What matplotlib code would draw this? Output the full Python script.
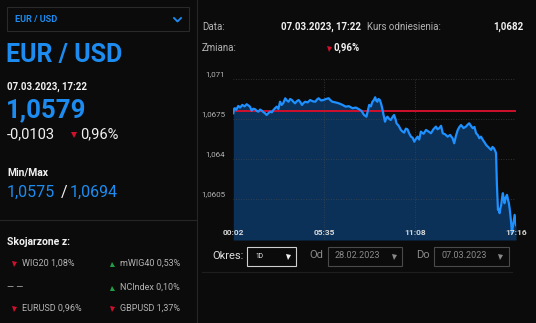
import matplotlib
matplotlib.use("Agg")
import matplotlib.pyplot as plt
from matplotlib.lines import Line2D
from matplotlib.patches import Rectangle

plt.rcParams['font.family'] = ['Roboto', 'DejaVu Sans']

# intraday EUR/USD quotes, 07.03.2023
times = ["00:02", "00:05", "00:08", "00:13", "00:20", "00:27", "00:35", "00:43", "00:51",
         "00:57", "01:03", "01:09", "01:15", "01:22", "01:28", "01:34", "01:40", "01:46",
         "01:52", "01:58", "02:04", "02:10", "02:17", "02:23", "02:29", "02:35", "02:41",
         "02:47", "02:53", "02:59", "03:05", "03:12", "03:18", "03:24", "03:30", "03:36",
         "03:42", "03:48", "03:54", "04:01", "04:07", "04:13", "04:19", "04:25", "04:34",
         "04:43", "04:52", "05:02", "05:08", "05:14", "05:23", "05:32", "05:41", "05:51",
         "05:57", "06:04", "06:16", "06:28", "06:40", "06:53", "07:05", "07:18", "07:30",
         "07:42", "07:51", "08:00", "08:09", "08:14", "08:19", "08:25", "08:31", "08:36",
         "08:41", "08:45", "08:49", "08:53", "08:58", "09:03", "09:08", "09:12", "09:17",
         "09:22", "09:26", "09:32", "09:38", "09:44", "09:50", "09:55", "09:59", "10:07",
         "10:15", "10:21", "10:27", "10:33", "10:39", "10:46", "10:52", "10:58", "11:04",
         "11:10", "11:16", "11:22", "11:28", "11:38", "11:47", "11:56", "12:05", "12:14",
         "12:23", "12:29", "12:35", "12:42", "12:48", "12:57", "13:06", "13:15", "13:24",
         "13:30", "13:36", "13:43", "13:49", "13:55", "14:04", "14:13", "14:19", "14:25",
         "14:31", "14:38", "14:44", "14:50", "14:56", "15:02", "15:08", "15:15", "15:21",
         "15:27", "15:36", "15:45", "15:50", "15:55", "16:00", "16:03", "16:06", "16:10",
         "16:13", "16:16", "16:19", "16:22", "16:25", "16:28", "16:31", "16:34", "16:38",
         "16:43", "16:47", "16:50", "16:53", "16:56", "16:59", "17:01", "17:04", "17:07",
         "17:11", "17:14", "17:16"]
rates = [1.06800, 1.06840, 1.06844, 1.06830, 1.06864, 1.06850, 1.06873, 1.06860, 1.06879,
         1.06868, 1.06858, 1.06823, 1.06840, 1.06835, 1.06820, 1.06814, 1.06832, 1.06823,
         1.06810, 1.06800, 1.06785, 1.06800, 1.06814, 1.06808, 1.06829, 1.06845, 1.06858,
         1.06838, 1.06901, 1.06873, 1.06890, 1.06931, 1.06912, 1.06901, 1.06925, 1.06916,
         1.06900, 1.06887, 1.06905, 1.06916, 1.06898, 1.06873, 1.06890, 1.06901, 1.06895,
         1.06916, 1.06905, 1.06901, 1.06920, 1.06931, 1.06912, 1.06916, 1.06925, 1.06931,
         1.06915, 1.06901, 1.06895, 1.06887, 1.06875, 1.06858, 1.06862, 1.06844, 1.06850,
         1.06835, 1.06820, 1.06785, 1.06770, 1.06820, 1.06873, 1.06860, 1.06901, 1.06915,
         1.06940, 1.06910, 1.06901, 1.06925, 1.06916, 1.06880, 1.06829, 1.06780, 1.06726,
         1.06760, 1.06770, 1.06750, 1.06741, 1.06765, 1.06785, 1.06750, 1.06712, 1.06690,
         1.06654, 1.06640, 1.06630, 1.06665, 1.06660, 1.06620, 1.06595, 1.06585, 1.06551,
         1.06575, 1.06595, 1.06570, 1.06639, 1.06620, 1.06654, 1.06640, 1.06625, 1.06660,
         1.06683, 1.06660, 1.06669, 1.06690, 1.06625, 1.06615, 1.06595, 1.06610, 1.06581,
         1.06537, 1.06600, 1.06654, 1.06680, 1.06697, 1.06670, 1.06683, 1.06700, 1.06712,
         1.06690, 1.06669, 1.06680, 1.06625, 1.06610, 1.06581, 1.06595, 1.06566, 1.06545,
         1.06522, 1.06500, 1.06479, 1.06505, 1.06494, 1.06470, 1.06450, 1.06187, 1.05954,
         1.05960, 1.05925, 1.05970, 1.05997, 1.06060, 1.06100, 1.06050, 1.06012, 1.06060,
         1.06085, 1.06040, 1.06012, 1.05960, 1.05895, 1.05820, 1.05750, 1.05800, 1.05851,
         1.05910, 1.05860, 1.05820]
ref_rate = 1.0682
y_ticks = [1.0605, 1.064, 1.0675, 1.071]
x_ticks = ["00:02", "05:35", "11:08", "17:16"]

related = [("WIG20 1,08%", "down"), ("mWIG40 0,53%", "up"),
           (None, None), ("NCIndex 0,10%", "up"),
           ("EURUSD 0,96%", "down"), ("GBPUSD 1,37%", "down")]

BG = '#0b0b0b'
BLUE = '#1d8cf0'
LINE = '#1e90ff'
FILL = '#0b3159'
RED = '#d0102c'
GREEN = '#1fa045'
WHITE = '#f2f2f2'
GRAY = '#b4b4b4'
DIM = '#8a8a8a'
SEP = '#262626'

W, H = 536, 323


def minutes(s):
    h, m = s.split(':')
    return int(h) * 60 + int(m)


def fx(x):
    return x / W


def fy(y):
    return 1 - y / H


fig = plt.figure(figsize=(W / 100, H / 100), dpi=100, facecolor=BG)


def txt(x, y, s, **kw):
    kw.setdefault('va', 'center')
    fig.text(fx(x), fy(y), s, **kw)


def tri(x, y, kind, color, ms=4.0):
    fig.add_artist(Line2D([fx(x)], [fy(y)], marker='v' if kind == 'down' else '^',
                          color=color, ms=ms, mew=0, transform=fig.transFigure))


def box(x0, y0, x1, y1, color, lw=0.8):
    fig.add_artist(Rectangle((fx(x0), fy(y1)), fx(x1 - x0), (y1 - y0) / H,
                             transform=fig.transFigure, fill=False, ec=color, lw=lw))


def hline(x0, x1, y, color=SEP):
    fig.add_artist(Line2D([fx(x0), fx(x1)], [fy(y), fy(y)], color=color, lw=0.8,
                          transform=fig.transFigure))


# left panel
box(7, 7, 189, 31, '#2a2a2a')
txt(15, 19.5, "EUR / USD", color=BLUE, fontsize=6.6, fontweight='bold')
fig.add_artist(Line2D([fx(174), fx(177.5), fx(181)], [fy(18), fy(21.5), fy(18)],
                      color=BLUE, lw=1.3, transform=fig.transFigure))
txt(6, 55, "EUR / USD", color=BLUE, fontsize=18, fontweight='bold')
txt(7, 87, "07.03.2023, 17:22", color=WHITE, fontsize=7, fontweight='bold')
txt(6, 110, "1,0579", color=BLUE, fontsize=18.5, fontweight='semibold')
txt(7, 134, "-0,0103", color=WHITE, fontsize=10.5)
tri(74, 135, 'down', RED)
txt(80, 134, "0,96%", color=WHITE, fontsize=10.5)
txt(7, 173, "Min/Max", color=WHITE, fontsize=7.5, fontweight='bold')
fig.text(fx(7), fy(192), "1,0575", color=BLUE, fontsize=11.5, va='center')
fig.text(fx(61), fy(192), "/", color=WHITE, fontsize=11.5, va='center')
fig.text(fx(70), fy(192), "1,0694", color=BLUE, fontsize=11.5, va='center')
hline(0, 196, 220)
txt(7, 242, "Skojarzone z:", color=WHITE, fontsize=7.5, fontweight='bold')

row_y = [263, 287, 308]
for i, (label, kind) in enumerate(related):
    col = i % 2
    y = row_y[i // 2]
    x = 14 if col == 0 else 112
    if label is None:
        txt(7, y, "— —", color=GRAY, fontsize=6.5)
        continue
    tri(x, y + 0.5, kind, RED if kind == 'down' else GREEN, ms=3.6)
    txt(x + 8, y, label, color=GRAY, fontsize=6.5)

fig.add_artist(Line2D([fx(196.5), fx(196.5)], [0, 1], color=SEP, lw=0.8,
                      transform=fig.transFigure))

# header over the chart
txt(202, 27, "Data:", color=GRAY, fontsize=7)
txt(361, 27, "07.03.2023, 17:22", color=WHITE, fontsize=7, fontweight='bold', ha='right')
txt(367, 27, "Kurs odniesienia:", color=GRAY, fontsize=7)
txt(524, 27, "1,0682", color=WHITE, fontsize=7, fontweight='bold', ha='right')
txt(202, 48, "Zmiana:", color=GRAY, fontsize=7)
tri(329, 48.5, 'down', RED, ms=3.6)
txt(333, 48, "0,96%", color=WHITE, fontsize=7, fontweight='bold')

# price chart
t = [minutes(s) for s in times]
y_lo, y_hi = 1.0569, 1.071
ax = fig.add_axes([fx(233.3), fy(240), (516 - 233.3) / W, (240 - 79) / H])
ax.set_facecolor(BG)
ax.fill_between(t, rates, y_lo, color=FILL, lw=0, zorder=1)
ax.axhline(ref_rate, color=RED, lw=1.4, zorder=2)
ax.plot(t, rates, color=LINE, lw=1.6, zorder=4)
ax.set_xlim(minutes(x_ticks[0]), minutes(x_ticks[-1]))
ax.set_ylim(y_lo, y_hi)
for s in ax.spines.values():
    s.set_visible(False)
ax.set_xticks([])
ax.set_yticks([])

for v in y_ticks:
    ax.axhline(v, color='#4a4a4a', lw=0.6, ls=(0, (1, 2)), zorder=3, alpha=0.8)
    ax.annotate(f"{v:.4f}".rstrip('0').replace('.', ','), xy=(0, v),
                xycoords=ax.get_yaxis_transform(), xytext=(-8, 5),
                textcoords='offset pixels', ha='right', va='center',
                color=GRAY, fontsize=5.8)
for s in x_ticks[1:]:
    ax.axvline(minutes(s), color='#4a4a4a', lw=0.6, ls=(0, (1, 2)), zorder=3, alpha=0.8)
for s in x_ticks:
    ax.text(minutes(s), 0.045, s, transform=ax.get_xaxis_transform(), ha='center',
            va='center', color='#d8d8d8', fontsize=6, fontweight='bold', zorder=5,
            clip_on=False)

# period controls
txt(212, 256, "Okres:", color='#dddddd', fontsize=8)
box(247, 247, 296, 265.5, '#cfcfcf')
txt(255, 256.5, "1D", color=WHITE, fontsize=4.8)
tri(288, 257, 'down', WHITE, ms=3.6)
txt(309, 254.5, "Od", color=DIM, fontsize=8)
box(328, 247, 402, 265.5, '#4a4a4a')
txt(335, 256, "28.02.2023", color=DIM, fontsize=6.5)
tri(394, 257, 'down', DIM, ms=3.6)
txt(416, 254.5, "Do", color=DIM, fontsize=8)
box(434, 247, 509, 265.5, '#4a4a4a')
txt(441, 256, "07.03.2023", color=DIM, fontsize=6.5)
tri(500, 257, 'down', DIM, ms=3.6)
hline(202, 512, 272, '#1e1e1e')

fig.savefig("out.png", dpi=100, facecolor=BG)
